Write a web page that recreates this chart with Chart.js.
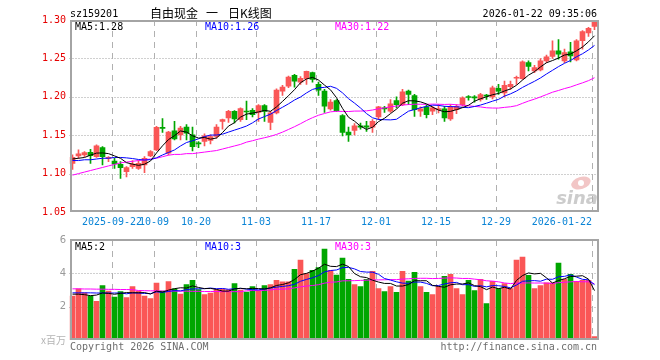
<!DOCTYPE html>
<html><head><meta charset="utf-8">
<script src="https://cdn.jsdelivr.net/npm/chart.js@4.4.1/dist/chart.umd.min.js"></script>
<style>
html,body{margin:0;padding:0;background:#fff;width:660px;height:360px;overflow:hidden}
#main{position:absolute;left:0;top:0;width:660px;height:236px}
#vol{position:absolute;left:0;top:226px;width:660px;height:134px}
</style></head><body>
<div id="main"><canvas id="c1" width="660" height="236"></canvas></div>
<div id="vol"><canvas id="c2" width="660" height="134"></canvas></div>
<script>
const dates = [
'2025-09-11','2025-09-12','2025-09-15','2025-09-16','2025-09-17','2025-09-18','2025-09-19','2025-09-22','2025-09-23','2025-09-24','2025-09-25','2025-09-26','2025-09-29','2025-09-30',
'2025-10-09','2025-10-10','2025-10-13','2025-10-14','2025-10-15','2025-10-16','2025-10-17','2025-10-20','2025-10-21','2025-10-22','2025-10-23','2025-10-24','2025-10-27','2025-10-28','2025-10-29','2025-10-30','2025-10-31',
'2025-11-03','2025-11-04','2025-11-05','2025-11-06','2025-11-07','2025-11-10','2025-11-11','2025-11-12','2025-11-13','2025-11-14','2025-11-17','2025-11-18','2025-11-19','2025-11-20','2025-11-21','2025-11-24','2025-11-25','2025-11-26','2025-11-27','2025-11-28',
'2025-12-01','2025-12-02','2025-12-03','2025-12-04','2025-12-05','2025-12-08','2025-12-09','2025-12-10','2025-12-11','2025-12-12','2025-12-15','2025-12-16','2025-12-17','2025-12-18','2025-12-19','2025-12-22','2025-12-23','2025-12-24','2025-12-25','2025-12-26','2025-12-29','2025-12-30','2025-12-31',
'2026-01-05','2026-01-06','2026-01-07','2026-01-08','2026-01-09','2026-01-12','2026-01-13','2026-01-14','2026-01-15','2026-01-16','2026-01-19','2026-01-20','2026-01-21','2026-01-22'];

const opens = [
1.1133,1.1230,1.1243,1.1278,1.1221,1.1339,1.1199,1.1164,1.1120,1.1024,
1.1090,1.1068,1.1112,1.1230,1.1308,1.1593,1.1265,1.1558,1.1505,1.1606,
1.1505,1.1392,1.1418,1.1431,1.1483,1.1680,1.1724,1.1811,1.1702,1.1807,
1.1825,1.1798,1.1886,1.1667,1.1790,1.2074,1.2140,1.2280,1.2192,1.2236,
1.2315,1.2161,1.2074,1.1842,1.1952,1.1755,1.1540,1.1562,1.1623,1.1623,
1.1606,1.1737,1.1855,1.1812,1.1952,1.1899,1.2074,1.2017,1.1812,1.1869,
1.1812,1.1834,1.1842,1.1711,1.1834,1.1899,1.1995,1.1991,1.1965,1.2013,
1.2000,1.2109,1.2052,1.2131,1.2241,1.2236,1.2446,1.2337,1.2350,1.2468,
1.2525,1.2599,1.2468,1.2586,1.2481,1.2730,1.2831,1.2918];
const highs = [
1.1243,1.1308,1.1287,1.1317,1.1374,1.1352,1.1221,1.1199,1.1155,1.1090,
1.1168,1.1168,1.1221,1.1300,1.1615,1.1715,1.1549,1.1680,1.1615,1.1637,
1.1606,1.1418,1.1518,1.1505,1.1637,1.1711,1.1825,1.1820,1.1855,1.1943,
1.1847,1.1899,1.1899,1.1812,1.2105,1.2148,1.2271,1.2293,1.2262,1.2336,
1.2323,1.2192,1.2096,1.1965,1.1965,1.1768,1.1606,1.1650,1.1658,1.1680,
1.1702,1.1877,1.1877,1.1965,1.2000,1.2096,1.2087,1.2031,1.1869,1.1899,
1.1877,1.1899,1.1877,1.1899,1.1899,1.2000,1.2017,1.2017,1.2044,1.2031,
1.2140,1.2162,1.2206,1.2206,1.2271,1.2468,1.2468,1.2411,1.2499,1.2542,
1.2730,1.2744,1.2621,1.2708,1.2744,1.2862,1.2905,1.2980];
const lows = [
1.1055,1.1199,1.1221,1.1133,1.1212,1.1112,1.1155,1.1068,1.0937,1.0958,
1.1068,1.1055,1.1011,1.1221,1.1300,1.1536,1.1243,1.1440,1.1440,1.1440,
1.1295,1.1339,1.1361,1.1387,1.1462,1.1580,1.1667,1.1659,1.1680,1.1702,
1.1737,1.1680,1.1680,1.1571,1.1778,1.2017,1.2118,1.2126,1.2161,1.2161,
1.2192,1.2017,1.1798,1.1825,1.1811,1.1492,1.1418,1.1505,1.1580,1.1549,
1.1536,1.1702,1.1798,1.1798,1.1855,1.1886,1.1899,1.1746,1.1746,1.1724,
1.1768,1.1790,1.1681,1.1694,1.1781,1.1877,1.1956,1.1930,1.1943,1.1965,
1.1974,1.2030,1.2000,1.2096,1.2162,1.2227,1.2337,1.2315,1.2337,1.2446,
1.2499,1.2490,1.2446,1.2455,1.2468,1.2621,1.2787,1.2875];
const closes = [
1.1212,1.1256,1.1273,1.1234,1.1361,1.1221,1.1212,1.1125,1.1077,1.1077,
1.1125,1.1133,1.1199,1.1287,1.1601,1.1589,1.1540,1.1453,1.1593,1.1527,
1.1352,1.1387,1.1492,1.1483,1.1606,1.1702,1.1811,1.1711,1.1847,1.1802,
1.1768,1.1886,1.1811,1.1790,1.2087,1.2126,1.2258,1.2205,1.2240,1.2332,
1.2227,1.2087,1.1877,1.1930,1.1820,1.1536,1.1505,1.1623,1.1606,1.1606,
1.1680,1.1869,1.1842,1.1908,1.1899,1.2065,1.2030,1.1834,1.1842,1.1768,
1.1855,1.1838,1.1724,1.1869,1.1877,1.1987,1.1991,1.1987,1.2030,1.2008,
1.2118,1.2074,1.2149,1.2162,1.2249,1.2455,1.2394,1.2380,1.2468,1.2520,
1.2599,1.2555,1.2577,1.2533,1.2730,1.2848,1.2892,1.2971];
// volume, millions
const volumes = [
2.63,3.07,2.83,2.63,2.32,3.27,2.93,2.57,2.91,2.55,
3.21,2.93,2.63,2.48,3.41,2.93,3.51,3.07,2.75,3.33,
3.58,3.03,2.73,2.81,3.03,3.07,3.03,3.39,2.99,2.87,
3.21,2.97,3.27,3.33,3.58,3.49,3.49,4.24,4.79,3.98,
4.18,4.34,5.45,4.16,3.89,4.91,3.64,3.33,3.21,3.64,
4.12,3.09,2.91,3.21,2.86,4.12,3.53,4.06,3.21,2.86,
2.73,3.21,3.82,3.94,3.09,2.73,3.58,2.97,3.64,2.18,
3.52,3.09,3.39,3.09,4.79,4.97,3.88,3.09,3.27,3.43,
3.43,4.61,3.64,3.94,3.52,3.58,3.58,0.20];

// moving-average values at the start of the window
const ma5Head  = [1.119,1.120,1.121,1.124];
const ma10Head = [1.117,1.117,1.118,1.118,1.119,1.120,1.120,1.121,1.121];
const ma30Head = [1.098,1.100,1.102,1.104,1.106,1.108,1.110,1.112,1.114,1.115,1.116,1.117,1.118,1.119,1.120,1.122,1.124,1.125,1.125,1.126,1.126,1.127,1.128,1.129,1.130,1.132,1.134,1.136,1.138];
const vma5Head  = [2.75,2.75,2.72,2.66];
const vma10Head = [2.83,2.83,2.83,2.83,2.82,2.82,2.82,2.82,2.82];
const vma30Head = [3.07,3.07,3.06,3.06,3.05,3.05,3.04,3.04,3.03,3.03,3.02,2.97,2.96,2.95,2.95,2.94,2.94,2.93,2.93,2.93,2.92,2.92,2.91,2.91,2.91,2.90,2.90,2.90,2.90];

const priceTicks = [1.05,1.10,1.15,1.20,1.25,1.30];
const volTicks = [2,4,6];
const tickDates = ['2025-09-22','2025-10-09','2025-10-20','2025-11-03','2025-11-17','2025-12-01','2025-12-15','2025-12-29','2026-01-22'];
const tickTexts = ['2025-09-22','10-09','10-20','11-03','11-17','12-01','12-15','12-29','2026-01-22'];
const maLabels = ['MA5:1.28','MA10:1.26','MA30:1.22'];
const volMaLabels = ['MA5:2','MA10:3','MA30:3'];
const titleCode = 'sz159201';
const titleName = ['自由现金','一','日K线图'];
const stamp = '2026-01-22 09:35:06';

const UP = '#fa5656', DOWN = '#00a600';
const MA_COLORS = ['#000000','#0000ff','#ff00ff'];
const MONO = '"DejaVu Sans Mono", monospace';

function movingAvg(vals, n, head){
  return vals.map((v,i)=> i < n-1 ? head[i] : vals.slice(i-n+1,i+1).reduce((a,b)=>a+b,0)/n);
}
const colors = closes.map((c,i)=> c >= opens[i] ? UP : DOWN);
const wicks = lows.map((l,i)=>[l, highs[i]]);
const bodies = opens.map((o,i)=>[o, closes[i]]);
const ma5 = movingAvg(closes,5,ma5Head), ma10 = movingAvg(closes,10,ma10Head), ma30 = movingAvg(closes,30,ma30Head);
const vma5 = movingAvg(volumes,5,vma5Head), vma10 = movingAvg(volumes,10,vma10Head), vma30 = movingAvg(volumes,30,vma30Head);

function lineDs(data, color){
  return {type:'line', data, borderColor:color, borderWidth:1, pointRadius:0, tension:0, fill:false, order:0};
}
function hline(ctx,x1,y1,x2,y2){ctx.beginPath();ctx.moveTo(x1,y1);ctx.lineTo(x2,y2);ctx.stroke();}

function drawGrid(chart, ticks){
  const {ctx, chartArea:a, scales:{x,y}} = chart;
  ctx.save();
  ctx.lineWidth = 1;
  ctx.strokeStyle = '#a0a0a0';
  ctx.setLineDash([1,2]);
  ticks.forEach(v=>{
    const py = Math.round(y.getPixelForValue(v)) + 0.5;
    if (py > a.top + 2 && py < a.bottom - 2) hline(ctx, a.left, py, a.right, py);
  });
  ctx.strokeStyle = '#b0b0b0';
  ctx.setLineDash([6,5]);
  tickDates.forEach(d=>{
    const px = Math.round(x.getPixelForValue(dates.indexOf(d)) - 2.5) + 0.5;
    hline(ctx, px, a.top, px, a.bottom);
  });
  ctx.restore();
}
function drawFrame(ctx, top, bottom){
  ctx.save();
  ctx.strokeStyle = '#a4a4a4';
  ctx.lineWidth = 2;
  ctx.strokeRect(71, top, 527, bottom - top);
  ctx.restore();
}

const mainDeco = {
  id:'mainDeco',
  beforeDatasetsDraw(chart){
    const ctx = chart.ctx;
    // watermark
    ctx.save();
    ctx.fillStyle = '#f2c6c6';
    ctx.beginPath(); ctx.ellipse(581, 183, 10, 6, -0.3, 0, Math.PI*2); ctx.fill();
    ctx.fillStyle = '#ffffff';
    ctx.beginPath(); ctx.arc(581, 183, 3, 0, Math.PI*2); ctx.fill();
    ctx.font = 'italic bold 18px "DejaVu Sans"';
    ctx.fillStyle = '#cccccc';
    ctx.textAlign = 'right';
    ctx.fillText('sina', 598, 204);
    ctx.restore();
    drawGrid(chart, priceTicks);
  },
  afterDatasetsDraw(chart){
    drawFrame(chart.ctx, 21, 211);
  },
  afterDraw(chart){
    const {ctx, scales:{x}} = chart;
    ctx.save();
    ctx.textBaseline = 'alphabetic';
    ctx.font = '10px ' + MONO;
    ctx.fillStyle = '#000';
    ctx.textAlign = 'left';
    ctx.fillText(titleCode, 70, 17);
    ctx.textAlign = 'right';
    ctx.fillText(stamp, 597, 17);
    ctx.textAlign = 'left';
    ctx.font = '12px "Noto Sans CJK SC"';
    ctx.fillText(titleName[0], 150, 18);
    ctx.fillText(titleName[1], 206, 18);
    ctx.fillText(titleName[2], 228, 18);
    ctx.font = '10px ' + MONO;
    const mx = [75, 205, 335];
    maLabels.forEach((t,i)=>{ ctx.fillStyle = MA_COLORS[i]; ctx.fillText(t, mx[i], 30); });
    // date labels
    ctx.fillStyle = '#0a84d6';
    tickDates.forEach((d,k)=>{
      const px = Math.round(x.getPixelForValue(dates.indexOf(d)) - 2.5);
      if (k === tickDates.length - 1) { ctx.textAlign = 'right'; ctx.fillText(tickTexts[k], px, 225); }
      else { ctx.textAlign = 'center'; ctx.fillText(tickTexts[k], px, 225); }
    });
    ctx.restore();
  }
};

const volDeco = {
  id:'volDeco',
  beforeDatasetsDraw(chart){ drawGrid(chart, volTicks); },
  afterDatasetsDraw(chart){ drawFrame(chart.ctx, 14, 113); },
  afterDraw(chart){
    const ctx = chart.ctx;
    ctx.save();
    ctx.font = '10px ' + MONO;
    ctx.textAlign = 'left';
    const mx = [75, 205, 335];
    volMaLabels.forEach((t,i)=>{ ctx.fillStyle = MA_COLORS[i]; ctx.fillText(t, mx[i], 23.5); });
    ctx.fillStyle = '#6e6e6e';
    ctx.fillText('Copyright 2026 SINA.COM', 70, 124);
    ctx.textAlign = 'right';
    ctx.fillText('http://finance.sina.com.cn', 597, 124);
    ctx.fillStyle = '#b4b4b4';
    ctx.font = '10px "Noto Sans CJK SC"';
    ctx.fillText('x百万', 66, 118);
    ctx.restore();
  }
};

Chart.defaults.animation = false;

new Chart(document.getElementById('c1'), {
  type:'bar',
  data:{
    labels: dates,
    datasets:[
      lineDs(ma5, MA_COLORS[0]),
      lineDs(ma10, MA_COLORS[1]),
      lineDs(ma30, MA_COLORS[2]),
      {data: wicks, backgroundColor: colors, barThickness:1, grouped:false, borderWidth:0, order:2},
      {data: bodies, backgroundColor: colors, barThickness:5, grouped:false, borderWidth:0, minBarLength:1, order:1}
    ]
  },
  options:{
    responsive:false, devicePixelRatio:1, animation:false,
    layout:{padding:{left:0, right:62.5, top:20, bottom:24}},
    plugins:{legend:{display:false}, tooltip:{enabled:false}},
    scales:{
      x:{display:false, offset:true},
      y:{
        min:1.05, max:1.30,
        afterFit(s){ s.width = 69.5; },
        afterBuildTicks(s){ s.ticks = priceTicks.map(v=>({value:v})); },
        ticks:{color:'#e60000', font:{family:'DejaVu Sans Mono', size:10}, padding:3.5, callback:v=>Number(v).toFixed(2)},
        grid:{display:false, drawTicks:false},
        border:{display:false}
      }
    }
  },
  plugins:[mainDeco]
});

new Chart(document.getElementById('c2'), {
  type:'bar',
  data:{
    labels: dates,
    datasets:[
      lineDs(vma5, MA_COLORS[0]),
      lineDs(vma10, MA_COLORS[1]),
      lineDs(vma30, MA_COLORS[2]),
      {data: volumes, backgroundColor: colors, barThickness:5, borderWidth:0, order:1}
    ]
  },
  options:{
    responsive:false, devicePixelRatio:1, animation:false,
    layout:{padding:{left:0, right:62.5, top:14, bottom:20}},
    plugins:{legend:{display:false}, tooltip:{enabled:false}},
    scales:{
      x:{display:false, offset:true},
      y:{
        min:0, max:6,
        afterFit(s){ s.width = 69.5; },
        afterBuildTicks(s){ s.ticks = volTicks.map(v=>({value:v})); },
        ticks:{color:'#9a9a9a', font:{family:'DejaVu Sans', size:10}, padding:3.5},
        grid:{display:false, drawTicks:false},
        border:{display:false}
      }
    }
  },
  plugins:[volDeco]
});
</script>
</body></html>
